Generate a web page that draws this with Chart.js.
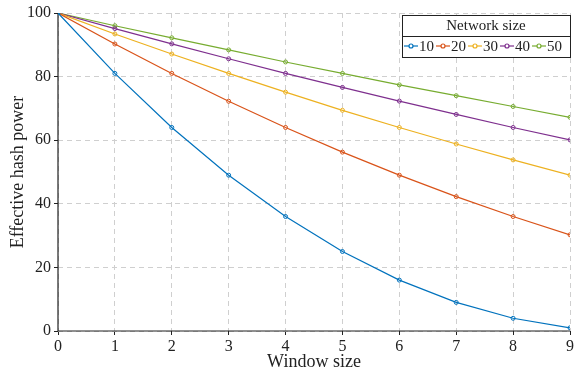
<!DOCTYPE html>
<html>
<head>
<meta charset="utf-8">
<script src="https://cdn.jsdelivr.net/npm/chart.js@4/dist/chart.umd.min.js"></script>
<style>
html, body { margin: 0; padding: 0; background: #fff; }
#wrap { width: 576px; height: 375px; }
</style>
</head>
<body>
<div id="wrap"><canvas id="chart"></canvas></div>
<script>
// window sizes on x
var windowSizes = [0, 1, 2, 3, 4, 5, 6, 7, 8, 9];
var networkSizes = ["10", "20", "30", "40", "50"];
var yTicks = [0, 20, 40, 60, 80, 100];

var n10 = [100, 81, 64, 49, 36, 25, 16, 9, 4, 1];
var n20 = [100, 90.25, 81, 72.25, 64, 56.25, 49, 42.25, 36, 30.25];
var n30 = [100, 93.4, 87.1, 81, 75.1, 69.4, 64, 58.8, 53.8, 49];
var n40 = [100, 95.1, 90.3, 85.6, 81, 76.6, 72.3, 68.1, 64, 60.1];
var n50 = [100, 96, 92.2, 88.4, 84.6, 81, 77.4, 74, 70.6, 67.2];

var seriesColors = ["#0072BD", "#D95319", "#EDB120", "#7E2F8E", "#77AC30"];
var fontFamily = "'Liberation Serif', 'DejaVu Serif', serif";

function makeSet(label, vals, color) {
    return {
        label: label,
        data: windowSizes.map(function (x, i) { return { x: x, y: vals[i] }; }),
        borderColor: color,
        backgroundColor: "rgba(255,255,255,0)",
        borderWidth: 1.2,
        pointRadius: 2,
        pointBorderWidth: 1,
        pointStyle: "circle",
        tension: 0
    };
}

var allSeries = [n10, n20, n30, n40, n50];
var datasets = allSeries.map(function (v, i) { return makeSet(networkSizes[i], v, seriesColors[i]); });

// solid axis lines over the dashed grid
var axisLines = {
    id: "axisLines",
    beforeDatasetsDraw: function (chart) {
        var a = chart.chartArea, ctx = chart.ctx;
        ctx.save();
        ctx.strokeStyle = "#222";
        ctx.lineWidth = 1.2;
        ctx.beginPath();
        ctx.moveTo(a.left, a.top);
        ctx.lineTo(a.left, a.bottom);
        ctx.lineTo(a.right, a.bottom);
        ctx.stroke();
        ctx.restore();
    }
};

// boxed legend inside the plot, top right
var boxLegend = {
    id: "boxLegend",
    afterDraw: function (chart) {
        var ctx = chart.ctx;
        var left = 402, right = 570, top = 15, mid = 36, bottom = 57;
        ctx.save();
        ctx.fillStyle = "#fff";
        ctx.fillRect(left, top, right - left, bottom - top);
        ctx.strokeStyle = "#222";
        ctx.lineWidth = 1;
        ctx.strokeRect(left + 0.5, top + 0.5, right - left, bottom - top);
        ctx.beginPath();
        ctx.moveTo(left, mid + 0.5);
        ctx.lineTo(right, mid + 0.5);
        ctx.stroke();
        ctx.fillStyle = "#222";
        ctx.font = "15px " + fontFamily;
        ctx.textAlign = "center";
        ctx.textBaseline = "middle";
        ctx.fillText("Network size", (left + right) / 2, 26);
        var x = left + 2;
        var y = 46;
        ctx.textAlign = "left";
        chart.data.datasets.forEach(function (ds) {
            ctx.strokeStyle = ds.borderColor;
            ctx.lineWidth = 1.2;
            ctx.beginPath();
            ctx.moveTo(x, y);
            ctx.lineTo(x + 14, y);
            ctx.stroke();
            ctx.beginPath();
            ctx.arc(x + 7, y, 2, 0, Math.PI * 2);
            ctx.fillStyle = "#fff";
            ctx.fill();
            ctx.stroke();
            ctx.fillStyle = "#222";
            ctx.fillText(ds.label, x + 15, y + 1);
            x += 15 + ctx.measureText(ds.label).width + 2;
        });
        ctx.restore();
    }
};

new Chart(document.getElementById("chart").getContext("2d"), {
    type: "line",
    data: { datasets: datasets },
    options: {
        responsive: true,
        maintainAspectRatio: false,
        animation: false,
        layout: { padding: { left: 7, right: 0, top: 13, bottom: 2 } },
        plugins: { legend: { display: false }, tooltip: { enabled: false } },
        scales: {
            x: {
                type: "linear",
                min: 0, max: 9,
                afterBuildTicks: function (s) { s.ticks = windowSizes.map(function (v) { return { value: v }; }); },
                afterFit: function (s) { s.height = 42; },
                grid: { color: "#cfcfcf", tickColor: "#222", tickLength: 4, tickBorderDash: [] },
                border: { display: false, dash: [5, 4] },
                ticks: { color: "#222", padding: 2, font: { family: fontFamily, size: 16 } },
                title: { display: true, text: "Window size", color: "#222", padding: 0, font: { family: fontFamily, size: 18 } }
            },
            y: {
                min: 0, max: 100,
                afterBuildTicks: function (s) { s.ticks = yTicks.map(function (v) { return { value: v }; }); },
                afterFit: function (s) { s.width = 51; },
                grid: { color: "#cfcfcf", tickColor: "#222", tickLength: 4, tickBorderDash: [] },
                border: { display: false, dash: [5, 4] },
                ticks: { color: "#222", padding: 3, font: { family: fontFamily, size: 16 } },
                title: { display: true, text: "Effective hash power", color: "#222", padding: 0, font: { family: fontFamily, size: 18 } }
            }
        }
    },
    plugins: [axisLines, boxLegend]
});
</script>
</body>
</html>
